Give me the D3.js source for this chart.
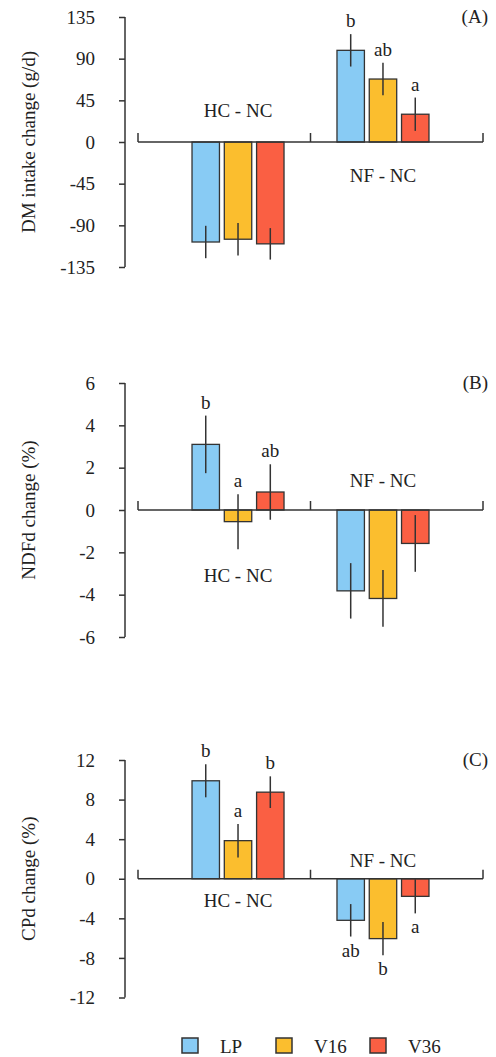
<!DOCTYPE html>
<html>
<head>
<meta charset="utf-8">
<script src="https://cdn.jsdelivr.net/npm/d3@7"></script>
<style>
  html, body { margin: 0; padding: 0; background: #fff; }
  svg { display: block; }
  text { font-family: "Liberation Serif", "Times New Roman", serif; fill: #222; }
</style>
</head>
<body>
<svg id="chart" width="496" height="1057"></svg>
<script>
// Categories and series
const groups = ["HC - NC", "NF - NC"];
const series = ["LP", "V16", "V36"];
const seriesColors = ["#88CBF4", "#FBBE2E", "#FA5F43"];

// (A) DM intake change, g/d
const dmTicks = [-135, -90, -45, 0, 45, 90, 135];
const dmHC = [-108, -105, -110];
const dmNF = [99, 68, 30];
const dmHCse = [17.5, 17.5, 17];
const dmNFse = [17.5, 17.5, 18];
const dmHCletters = ["", "", ""];
const dmNFletters = ["b", "ab", "a"];

// (B) NDFd change, %
const ndfTicks = [-6, -4, -2, 0, 2, 4, 6];
const ndfHC = [3.1, -0.55, 0.85];
const ndfNF = [-3.82, -4.18, -1.58];
const ndfHCse = [1.36, 1.3, 1.31];
const ndfNFse = [1.31, 1.34, 1.34];
const ndfHCletters = ["b", "a", "ab"];
const ndfNFletters = ["", "", ""];

// (C) CPd change, %
const cpTicks = [-12, -8, -4, 0, 4, 8, 12];
const cpHC = [9.9, 3.85, 8.75];
const cpNF = [-4.2, -6.05, -1.78];
const cpHCse = [1.67, 1.69, 1.6];
const cpNFse = [1.64, 1.68, 1.72];
const cpHCletters = ["b", "a", "b"];
const cpNFletters = ["ab", "b", "a"];

const svg = d3.select("#chart");
const axisX = 125;
const catLeft = 138, catRight = 483;

// group centres and bar offsets within a group
const gx = d3.scalePoint().domain(groups).range([catLeft, catRight]).padding(0.69);
const gBand = d3.scaleBand().domain(groups).range([catLeft, catRight]);
const sx = d3.scaleBand().domain(series).range([-46, 46]).paddingInner(0.15);

const panels = [
  { tag: "(A)", title: "DM intake change (g/d)", ticks: dmTicks, top: 17, bottom: 267,
    values: [dmHC, dmNF], se: [dmHCse, dmNFse], letters: [dmHCletters, dmNFletters],
    letterBelow: [false, false], labelDy: [-25, 40] },
  { tag: "(B)", title: "NDFd change (%)", ticks: ndfTicks, top: 383, bottom: 637,
    values: [ndfHC, ndfNF], se: [ndfHCse, ndfNFse], letters: [ndfHCletters, ndfNFletters],
    letterBelow: [false, true], labelDy: [72, -23] },
  { tag: "(C)", title: "CPd change (%)", ticks: cpTicks, top: 760, bottom: 997.5,
    values: [cpHC, cpNF], se: [cpHCse, cpNFse], letters: [cpHCletters, cpNFletters],
    letterBelow: [false, true], labelDy: [28, -12] }
];

const ink = "#333";

panels.forEach(p => {
  const y = d3.scaleLinear()
    .domain([d3.min(p.ticks), d3.max(p.ticks)])
    .range([p.bottom, p.top]);
  const g = svg.append("g");
  const y0 = y(0);

  // value axis (plain hyphen for negatives)
  const ax = g.append("g")
    .attr("transform", `translate(${axisX},0)`)
    .call(d3.axisLeft(y).tickValues(p.ticks).tickSize(6).tickSizeOuter(0).tickPadding(24)
      .tickFormat(d => String(d)));
  ax.selectAll("path, line").attr("stroke", ink).attr("stroke-width", 1.5);
  ax.selectAll("text").attr("font-size", 19).attr("font-family", "Liberation Serif, serif").attr("fill", "#222");
  ax.select(".domain").attr("d", `M0,${p.top}V${p.bottom}`);

  // axis title
  g.append("text")
    .attr("transform", `translate(28,${(p.top + p.bottom) / 2}) rotate(-90)`)
    .attr("text-anchor", "middle")
    .attr("dy", "0.35em")
    .attr("font-size", 19)
    .text(p.title);

  // panel tag
  g.append("text")
    .attr("x", 488).attr("y", p.top + 6)
    .attr("text-anchor", "end")
    .attr("font-size", 19)
    .text(p.tag);

  // bars
  groups.forEach((grp, gi) => {
    const cx = gx(grp);
    series.forEach((s, si) => {
      const v = p.values[gi][si];
      const e = p.se[gi][si];
      const x0 = cx + sx(s);
      g.append("rect")
        .attr("x", x0).attr("width", sx.bandwidth())
        .attr("y", Math.min(y(v), y0))
        .attr("height", Math.abs(y(v) - y0))
        .attr("fill", seriesColors[si])
        .attr("stroke", ink).attr("stroke-width", 1.3);
      const xm = x0 + sx.bandwidth() / 2;
      const lo = v - e, hi = v + e;
      g.append("line")
        .attr("x1", xm).attr("x2", xm)
        .attr("y1", y(hi)).attr("y2", y(lo))
        .attr("stroke", ink).attr("stroke-width", 1.5);
      const lt = p.letters[gi][si];
      if (lt) {
        const below = p.letterBelow[gi];
        g.append("text")
          .attr("x", xm)
          .attr("y", below ? y(lo) + 20 : y(hi) - 7)
          .attr("text-anchor", "middle")
          .attr("font-size", 19)
          .text(lt);
      }
    });
    // group label
    g.append("text")
      .attr("x", cx).attr("y", y0 + p.labelDy[gi])
      .attr("text-anchor", "middle")
      .attr("font-size", 19)
      .text(grp);
  });

  // category axis along zero
  g.append("line")
    .attr("x1", catLeft).attr("x2", catRight)
    .attr("y1", y0).attr("y2", y0)
    .attr("stroke", ink).attr("stroke-width", 1.5);
  const bounds = [catLeft].concat(groups.map(d => gBand(d) + gBand.bandwidth()));
  g.selectAll(null).data(bounds).enter().append("line")
    .attr("x1", d => d).attr("x2", d => d)
    .attr("y1", y0 - 9).attr("y2", y0)
    .attr("stroke", ink).attr("stroke-width", 1.5);
});

// legend
const legendX = [182, 276, 370];
const leg = svg.append("g");
series.forEach((s, i) => {
  leg.append("rect")
    .attr("x", legendX[i]).attr("y", 1038)
    .attr("width", 16).attr("height", 15)
    .attr("fill", seriesColors[i])
    .attr("stroke", ink).attr("stroke-width", 1.5);
  leg.append("text")
    .attr("x", legendX[i] + 38).attr("y", 1053)
    .attr("font-size", 19)
    .text(s);
});
</script>
</body>
</html>
